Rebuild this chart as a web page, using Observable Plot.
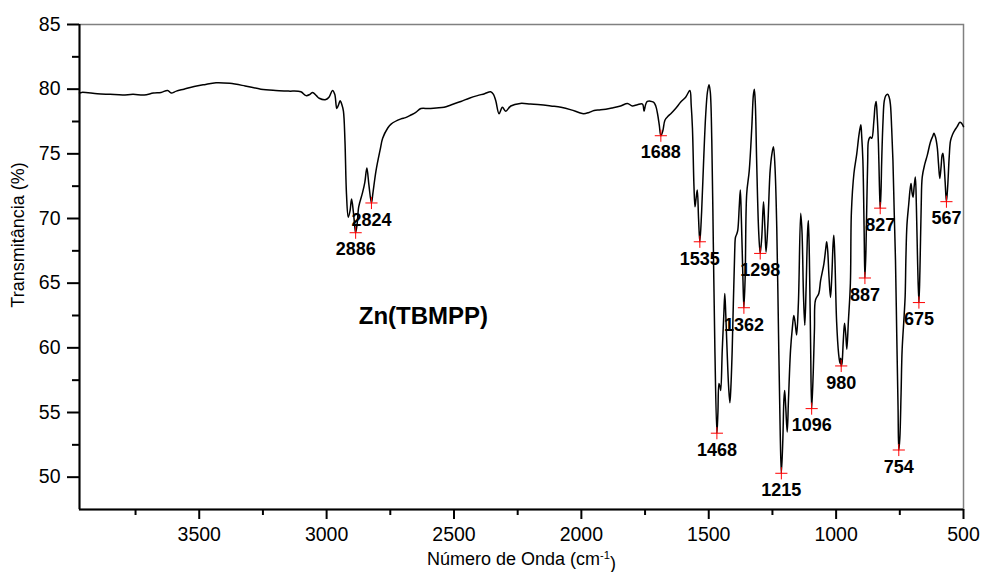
<!DOCTYPE html>
<html><head><meta charset="utf-8">
<script src="https://cdn.jsdelivr.net/npm/d3@7"></script>
<script src="https://cdn.jsdelivr.net/npm/@observablehq/plot@0.6"></script>
<style>body{margin:0;background:#fff}#chart svg{display:block}</style>
</head><body><div id="chart"></div>
<script>
const wavenumber = [3970,3961,3900,3850,3800,3760,3716,3680,3650,3624,3610,3590,3560,3520,3480,3434,3380,3320,3258,3200,3150,3101,3081,3065,3055,3040,3029,3003,2990,2977,2968,2960,2953,2947,2940,2934,2928,2922,2915,2908,2902,2895,2889,2886,2880,2874,2859,2850,2842,2834,2824,2818,2806,2790,2780,2760,2747,2708,2690,2669,2650,2630,2600,2570,2539,2510,2473,2440,2408,2380,2356,2345,2336,2323,2310,2297,2277,2240,2200,2160,2120,2080,2040,2010,1991,1970,1950,1924,1880,1846,1819,1800,1780,1760,1754,1748,1741,1717,1708,1701,1694,1688,1680,1672,1660,1649,1630,1610,1590,1574,1569,1564,1558,1554,1550,1545,1540,1535,1528,1520,1512,1505,1499,1494,1488,1482,1476,1468,1464,1460,1456,1453,1447,1441,1437,1433,1428,1422,1417,1413,1408,1398,1395,1390,1386,1380,1376,1372,1366,1362,1357,1351,1341,1331,1325,1321,1317,1312,1304,1298,1292,1285,1280,1275,1268,1259,1252,1246,1240,1233,1226,1220,1215,1209,1205,1202,1198,1192,1187,1179,1172,1166,1160,1155,1148,1139,1134,1128,1123,1118,1112,1109,1105,1100,1096,1090,1085,1081,1068,1061,1048,1040,1037,1033,1028,1022,1017,1012,1009,1005,998,990,985,982,980,977,972,967,962,958,952,944,940,930,919,910,903,900,895,890,887,883,880,876,873,866,860,852,847,843,839,834,830,827,824,821,816,811,805,798,792,787,782,777,772,767,762,757,754,750,745,741,733,729,726,722,715,710,706,702,698,694,689,685,680,675,671,666,662,652,642,630,620,616,610,603,598,593,588,584,581,577,572,567,562,556,551,543,535,525,514,507,500];
const transmittance = [79.7,79.75,79.65,79.6,79.55,79.6,79.55,79.7,79.75,79.9,79.7,79.85,80.0,80.2,80.35,80.5,80.45,80.25,80.0,79.9,79.85,79.8,79.5,79.6,79.75,79.5,79.3,79.2,79.4,79.9,79.6,78.5,78.8,79.1,78.8,78.3,76.0,71.9,70.1,70.6,71.5,70.5,69.3,68.9,69.6,70.9,72.0,72.8,73.9,72.6,71.2,72.0,73.7,75.3,76.2,77.0,77.3,77.7,77.8,78.0,78.2,78.5,78.5,78.55,78.6,78.8,79.05,79.3,79.5,79.65,79.8,79.6,79.1,78.1,78.6,78.3,78.7,78.9,78.85,78.8,78.7,78.6,78.4,78.2,78.1,78.2,78.35,78.4,78.55,78.7,78.9,78.7,78.8,78.85,78.3,78.8,79.05,79.0,78.7,78.1,77.2,76.4,76.8,77.6,77.9,78.1,78.5,79.0,79.4,79.9,78.8,77.0,72.5,70.9,71.5,72.2,70.0,68.2,70.5,74.5,78.0,79.8,80.35,79.8,76.0,68.0,60.0,53.4,55.0,57.25,57.0,56.7,59.8,62.5,64.2,62.5,59.8,57.0,55.75,57.0,59.8,67.5,68.55,68.8,69.1,71.0,72.2,70.0,65.5,63.1,65.5,71.9,73.7,77.05,79.5,80.0,78.8,74.5,69.0,67.3,68.5,71.3,69.5,67.4,69.5,73.7,75.0,75.55,74.0,69.3,61.0,54.0,50.3,53.0,56.0,56.7,55.5,53.5,56.0,59.8,61.5,62.5,61.8,61.0,63.5,70.4,69.0,64.0,61.75,64.5,69.0,69.85,67.0,60.0,55.3,58.0,61.5,63.7,64.2,65.2,66.5,67.8,68.2,67.5,65.5,63.9,65.5,68.0,68.7,67.0,62.0,59.5,58.8,59.2,58.6,58.8,60.5,61.9,61.0,59.9,62.0,65.0,70.5,73.5,75.0,76.5,77.25,76.5,74.5,69.0,65.4,67.5,70.6,74.5,76.0,76.3,76.2,77.5,78.7,79.05,78.0,75.8,72.5,70.8,72.0,74.5,77.5,79.1,79.5,79.6,79.4,78.85,77.0,74.5,70.5,66.8,61.0,55.5,52.1,53.0,56.5,59.8,62.5,64.0,67.0,69.5,71.1,72.2,72.7,72.0,71.65,72.4,73.2,71.0,66.5,63.5,66.0,71.0,73.2,74.2,74.9,75.9,76.4,76.6,76.3,75.5,74.2,73.1,74.0,74.9,75.05,74.4,72.8,71.3,72.5,74.8,76.0,76.5,76.8,77.1,77.45,77.35,77.1];

const peakWavenumber = [2886, 2824, 1688, 1535, 1468, 1362, 1298, 1215, 1096, 980, 887, 827, 754, 675, 567];
const peakTransmittance = [68.9, 71.2, 76.4, 68.2, 53.4, 63.1, 67.3, 50.3, 55.3, 58.6, 65.4, 70.8, 52.1, 63.5, 71.3];

const xDomain = [3970, 500];
const yDomain = [47.5, 85];
const xMajorTicks = [3500, 3000, 2500, 2000, 1500, 1000, 500];
const xMinorTicks = [3750, 3250, 2750, 2250, 1750, 1250, 750];
const yMajorTicks = [50, 55, 60, 65, 70, 75, 80, 85];
const yMinorTicks = [52.5, 57.5, 62.5, 67.5, 72.5, 77.5, 82.5];

const sampleName = ["Zn(TBMPP)"];
const sampleWavenumber = [2620];
const sampleTransmittance = [62.4];

const xTitle = "Número de Onda (cm-1)";
const yTitle = "Transmitância (%)";

const spectrum = wavenumber.map((w, i) => ({w, t: transmittance[i]}));
const peaks = peakWavenumber.map((w, i) => ({w, t: peakTransmittance[i]}));
const sample = sampleName.map((s, i) => ({s, w: sampleWavenumber[i], t: sampleTransmittance[i]}));

const plot = Plot.plot({
  width: 986,
  height: 572,
  marginLeft: 79,
  marginRight: 23,
  marginTop: 24,
  marginBottom: 63,
  style: {fontFamily: "'Liberation Sans', Arial, sans-serif", background: "#fff", color: "#000", overflow: "visible"},
  x: {domain: xDomain},
  y: {domain: yDomain},
  marks: [
    Plot.frame({stroke: "#808080", strokeWidth: 1.5}),
    Plot.axisX({ticks: xMinorTicks, tickSize: 6, strokeWidth: 2, text: null, label: null}),
    Plot.axisX({ticks: xMajorTicks, tickSize: 10, tickPadding: 8, strokeWidth: 2, tickFormat: "d", fontSize: 19.5, label: null}),
    Plot.axisY({ticks: yMinorTicks, tickSize: 7, strokeWidth: 2, text: null, label: null}),
    Plot.axisY({ticks: yMajorTicks, tickSize: 12, tickPadding: 7, strokeWidth: 2, tickFormat: "d", fontSize: 19.5, label: null}),
    Plot.ruleY([yDomain[0]], {strokeWidth: 2}),
    Plot.ruleX([xDomain[0]], {strokeWidth: 2}),
    Plot.line(spectrum, {x: "w", y: "t", curve: "catmull-rom", stroke: "#000", strokeWidth: 1.5}),
    Plot.dot(peaks, {x: "w", y: "t", symbol: "plus", r: 4, stroke: "#ff0000", strokeWidth: 1}),
    Plot.text(peaks, {x: "w", y: "t", text: d => String(d.w), dy: 17, lineAnchor: "middle", fontWeight: "bold", fontSize: 18, fill: "#000"}),
    Plot.text(sample, {x: "w", y: "t", text: "s", lineAnchor: "middle", fontWeight: "bold", fontSize: 24, fill: "#000"}),
    Plot.text([xTitle], {frameAnchor: "bottom", textAnchor: "middle", lineAnchor: "middle", dy: 50, fontSize: 18, fill: "#000"}),
    Plot.text([yTitle], {frameAnchor: "left", textAnchor: "middle", rotate: -90, lineAnchor: "middle", dx: -61, dy: -32, fontSize: 18, fill: "#000"})
  ]
});

document.getElementById("chart").append(plot);

d3.select(plot).selectAll("text").filter(function() { return this.textContent === xTitle; }).each(function() {
  const t = d3.select(this);
  t.text(null);
  t.append("tspan").text("Número de Onda (cm");
  t.append("tspan").attr("dy", "-0.55em").attr("font-size", "0.62em").text("-1");
  t.append("tspan").attr("dy", "0.55em").text(")");
});
</script>
</body></html>
